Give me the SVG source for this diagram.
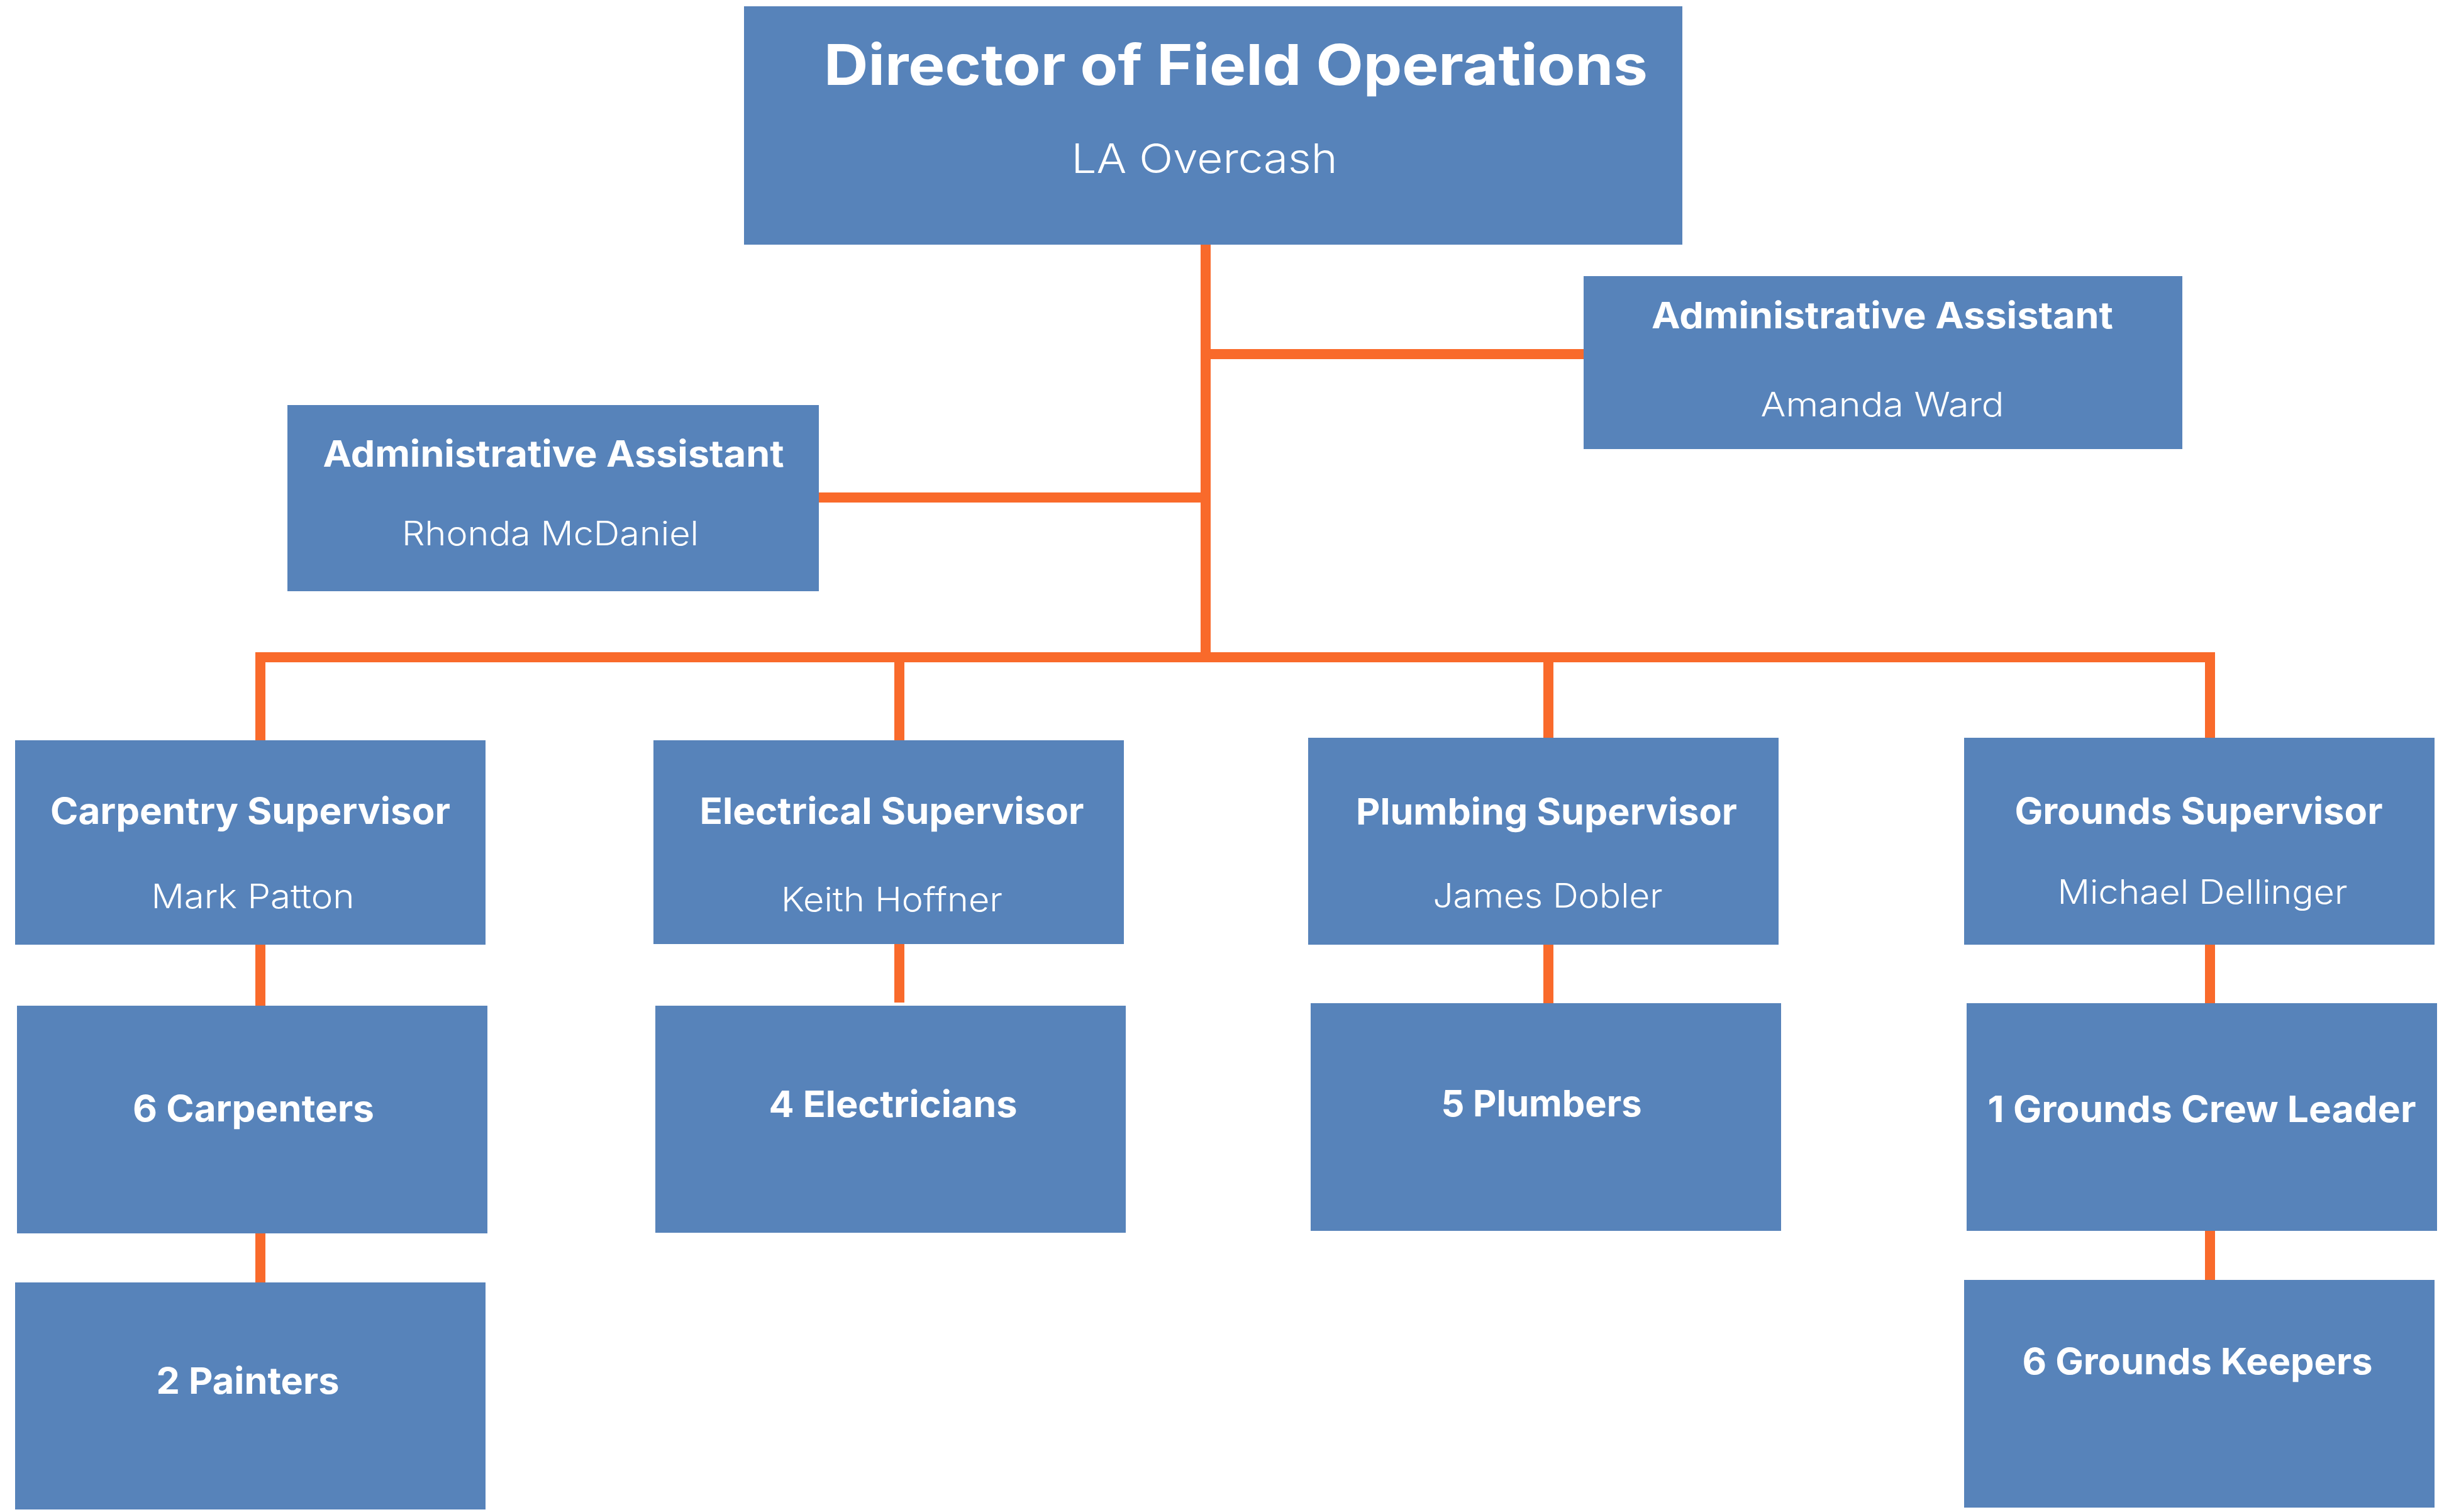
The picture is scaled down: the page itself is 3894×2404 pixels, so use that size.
<svg xmlns="http://www.w3.org/2000/svg" width="3894" height="2404" viewBox="0 0 3894 2404">
<style>
.box{fill:#5783BA}
.ln{stroke:#F96A2B;stroke-width:16;fill:none;stroke-linecap:butt}
.h{font-family:Inter,"Open Sans","Liberation Sans",sans-serif;font-weight:700;fill:#FFFFFF;text-anchor:middle}
.n{font-family:Inter,"Open Sans","Liberation Sans",sans-serif;font-weight:300;fill:#FFFFFF;text-anchor:middle}
.s{font-size:58px}
.m{font-size:53px}
</style>
<rect width="3894" height="2404" fill="#FFFFFF"/>
<g id="connectors">
<path class="ln" d="M1917 389V1053"/>
<path class="ln" d="M1917 563H2518"/>
<path class="ln" d="M1302 791H1917"/>
<path class="ln" d="M406 1045H3521"/>
<path class="ln" d="M414 1037V1177"/>
<path class="ln" d="M1430 1045V1177"/>
<path class="ln" d="M2462 1045V1173"/>
<path class="ln" d="M3514 1037V1173"/>
<path class="ln" d="M414 1502V1599"/>
<path class="ln" d="M414 1961V2039"/>
<path class="ln" d="M1430 1501V1594"/>
<path class="ln" d="M2462 1502V1595"/>
<path class="ln" d="M3514 1502V1595"/>
<path class="ln" d="M3514 1957V2035"/>
</g>
<g id="director">
<rect class="box" x="1183" y="10" width="1492" height="379"/>
<text class="h" x="1965" y="135" font-size="89" textLength="1310" lengthAdjust="spacingAndGlyphs">Director of Field Operations</text>
<text class="n" x="1915" y="275" font-size="65" textLength="423" lengthAdjust="spacingAndGlyphs">LA Overcash</text>
</g>
<g id="admin-left">
<rect class="box" x="457" y="644" width="845" height="296"/>
<text class="h s" x="880" y="742" textLength="733" lengthAdjust="spacingAndGlyphs">Administrative Assistant</text>
<text class="n m" x="875" y="867" textLength="472" lengthAdjust="spacingAndGlyphs">Rhonda McDaniel</text>
</g>
<g id="admin-right">
<rect class="box" x="2518" y="439" width="952" height="275"/>
<text class="h s" x="2993" y="522" textLength="734" lengthAdjust="spacingAndGlyphs">Administrative Assistant</text>
<text class="n m" x="2993" y="662" textLength="387" lengthAdjust="spacingAndGlyphs">Amanda Ward</text>
</g>
<g id="carpentry">
<rect class="box" x="24" y="1177" width="748" height="325"/>
<text class="h s" x="398" y="1310" textLength="636" lengthAdjust="spacingAndGlyphs">Carpentry Supervisor</text>
<text class="n m" x="402" y="1444" textLength="323" lengthAdjust="spacingAndGlyphs">Mark Patton</text>
</g>
<g id="electrical">
<rect class="box" x="1039" y="1177" width="748" height="324"/>
<text class="h s" x="1418" y="1310" textLength="611" lengthAdjust="spacingAndGlyphs">Electrical Supervisor</text>
<text class="n m" x="1418" y="1449" textLength="352" lengthAdjust="spacingAndGlyphs">Keith Hoffner</text>
</g>
<g id="plumbing">
<rect class="box" x="2080" y="1173" width="748" height="329"/>
<text class="h s" x="2459" y="1311" textLength="606" lengthAdjust="spacingAndGlyphs">Plumbing Supervisor</text>
<text class="n m" x="2461" y="1443" textLength="365" lengthAdjust="spacingAndGlyphs">James Dobler</text>
</g>
<g id="grounds">
<rect class="box" x="3123" y="1173" width="748" height="329"/>
<text class="h s" x="3496" y="1310" textLength="585" lengthAdjust="spacingAndGlyphs">Grounds Supervisor</text>
<text class="n m" x="3502" y="1437" textLength="461" lengthAdjust="spacingAndGlyphs">Michael Dellinger</text>
</g>
<g id="carpenters">
<rect class="box" x="27" y="1599" width="748" height="362"/>
<text class="h s" x="403" y="1783" textLength="384" lengthAdjust="spacingAndGlyphs">6 Carpenters</text>
</g>
<g id="painters">
<rect class="box" x="24" y="2039" width="748" height="361"/>
<text class="h s" x="394" y="2216" textLength="291" lengthAdjust="spacingAndGlyphs">2 Painters</text>
</g>
<g id="electricians">
<rect class="box" x="1042" y="1599" width="748" height="361"/>
<text class="h s" x="1420" y="1776" textLength="395" lengthAdjust="spacingAndGlyphs">4 Electricians</text>
</g>
<g id="plumbers">
<rect class="box" x="2084" y="1595" width="748" height="362"/>
<text class="h s" x="2451" y="1775" textLength="319" lengthAdjust="spacingAndGlyphs">5 Plumbers</text>
</g>
<g id="crew-leader">
<rect class="box" x="3127" y="1595" width="748" height="362"/>
<text class="h s" x="3501" y="1784" textLength="681" lengthAdjust="spacingAndGlyphs">1 Grounds Crew Leader</text>
</g>
<g id="grounds-keepers">
<rect class="box" x="3123" y="2035" width="748" height="362"/>
<text class="h s" x="3494" y="2185" textLength="557" lengthAdjust="spacingAndGlyphs">6 Grounds Keepers</text>
</g>
</svg>
